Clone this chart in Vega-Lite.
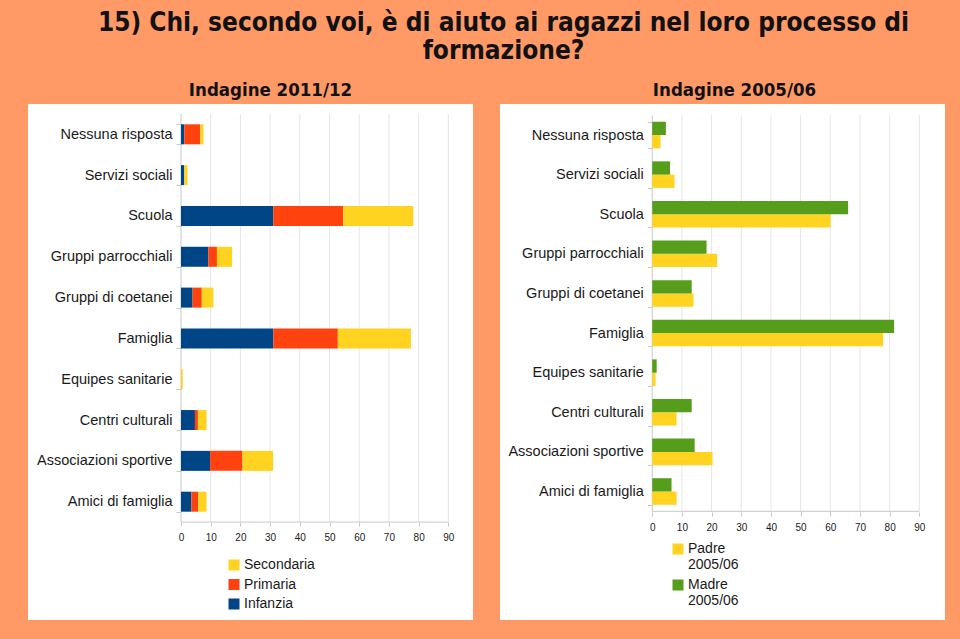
{
  "$schema": "https://vega.github.io/schema/vega-lite/v6.json",
  "background": "#ff9966",
  "padding": {"left": 28, "right": 15, "top": 9, "bottom": 20},
  "title": {
    "text": ["15) Chi, secondo voi, è di aiuto ai ragazzi nel loro processo di", "formazione?"],
    "font": "DejaVu Sans Condensed",
    "fontWeight": "bold",
    "fontSize": 26,
    "lineHeight": 28,
    "color": "#111111",
    "anchor": "middle",
    "dx": 17,
    "offset": 17
  },
  "resolve": {"scale": {"color": "independent"}, "legend": {"color": "independent"}},
  "datasets": {
    "left": [
      {"cat": "Nessuna risposta", "level": "Infanzia", "value": 1.1},
      {"cat": "Nessuna risposta", "level": "Primaria", "value": 5.4},
      {"cat": "Nessuna risposta", "level": "Secondaria", "value": 1.1},
      {"cat": "Servizi sociali", "level": "Infanzia", "value": 1.1},
      {"cat": "Servizi sociali", "level": "Primaria", "value": 0},
      {"cat": "Servizi sociali", "level": "Secondaria", "value": 1.1},
      {"cat": "Scuola", "level": "Infanzia", "value": 31.1},
      {"cat": "Scuola", "level": "Primaria", "value": 23.5},
      {"cat": "Scuola", "level": "Secondaria", "value": 23.6},
      {"cat": "Gruppi parrocchiali", "level": "Infanzia", "value": 9.2},
      {"cat": "Gruppi parrocchiali", "level": "Primaria", "value": 2.9},
      {"cat": "Gruppi parrocchiali", "level": "Secondaria", "value": 5.1},
      {"cat": "Gruppi di coetanei", "level": "Infanzia", "value": 3.9},
      {"cat": "Gruppi di coetanei", "level": "Primaria", "value": 3.1},
      {"cat": "Gruppi di coetanei", "level": "Secondaria", "value": 3.9},
      {"cat": "Famiglia", "level": "Infanzia", "value": 31.1},
      {"cat": "Famiglia", "level": "Primaria", "value": 21.7},
      {"cat": "Famiglia", "level": "Secondaria", "value": 24.6},
      {"cat": "Equipes sanitarie", "level": "Infanzia", "value": 0},
      {"cat": "Equipes sanitarie", "level": "Primaria", "value": 0},
      {"cat": "Equipes sanitarie", "level": "Secondaria", "value": 0.6},
      {"cat": "Centri culturali", "level": "Infanzia", "value": 4.7},
      {"cat": "Centri culturali", "level": "Primaria", "value": 1.0},
      {"cat": "Centri culturali", "level": "Secondaria", "value": 2.9},
      {"cat": "Associazioni sportive", "level": "Infanzia", "value": 9.8},
      {"cat": "Associazioni sportive", "level": "Primaria", "value": 10.9},
      {"cat": "Associazioni sportive", "level": "Secondaria", "value": 10.3},
      {"cat": "Amici di famiglia", "level": "Infanzia", "value": 3.5},
      {"cat": "Amici di famiglia", "level": "Primaria", "value": 2.3},
      {"cat": "Amici di famiglia", "level": "Secondaria", "value": 2.8}
    ],
    "right": [
      {"cat": "Nessuna risposta", "series": "Padre 2005/06", "value": 2.8},
      {"cat": "Nessuna risposta", "series": "Madre 2005/06", "value": 4.6},
      {"cat": "Servizi sociali", "series": "Padre 2005/06", "value": 7.5},
      {"cat": "Servizi sociali", "series": "Madre 2005/06", "value": 6.0},
      {"cat": "Scuola", "series": "Padre 2005/06", "value": 60.1},
      {"cat": "Scuola", "series": "Madre 2005/06", "value": 66.0},
      {"cat": "Gruppi parrocchiali", "series": "Padre 2005/06", "value": 21.9},
      {"cat": "Gruppi parrocchiali", "series": "Madre 2005/06", "value": 18.3},
      {"cat": "Gruppi di coetanei", "series": "Padre 2005/06", "value": 13.9},
      {"cat": "Gruppi di coetanei", "series": "Madre 2005/06", "value": 13.3},
      {"cat": "Famiglia", "series": "Padre 2005/06", "value": 77.8},
      {"cat": "Famiglia", "series": "Madre 2005/06", "value": 81.5},
      {"cat": "Equipes sanitarie", "series": "Padre 2005/06", "value": 1.1},
      {"cat": "Equipes sanitarie", "series": "Madre 2005/06", "value": 1.5},
      {"cat": "Centri culturali", "series": "Padre 2005/06", "value": 8.2},
      {"cat": "Centri culturali", "series": "Madre 2005/06", "value": 13.3},
      {"cat": "Associazioni sportive", "series": "Padre 2005/06", "value": 20.3},
      {"cat": "Associazioni sportive", "series": "Madre 2005/06", "value": 14.3},
      {"cat": "Amici di famiglia", "series": "Padre 2005/06", "value": 8.2},
      {"cat": "Amici di famiglia", "series": "Madre 2005/06", "value": 6.5}
    ],
    "grid": [
      {"v": 10}, {"v": 20}, {"v": 30}, {"v": 40}, {"v": 50},
      {"v": 60}, {"v": 70}, {"v": 80}, {"v": 90}
    ],
    "one": [{}]
  },
  "hconcat": [
    {
      "width": 445,
      "height": 516,
      "title": {"text": "Indagine 2011/12", "dx": 20},
      "layer": [
        {
          "data": {"name": "grid"},
          "mark": {"type": "rule", "color": "#e6e6e6", "strokeWidth": 1},
          "encoding": {
            "x": {"field": "v", "type": "quantitative"},
            "y": {"datum": "Nessuna risposta", "type": "nominal", "bandPosition": -0.52},
            "y2": {"datum": "Amici di famiglia", "bandPosition": 1.52}
          }
        },
        {
          "data": {"name": "one"},
          "mark": {"type": "rule", "color": "#c8c8c8", "strokeWidth": 1},
          "encoding": {
            "x": {"datum": 0, "type": "quantitative"},
            "y": {"datum": "Nessuna risposta", "type": "nominal", "bandPosition": -0.52},
            "y2": {"datum": "Amici di famiglia", "bandPosition": 1.52}
          }
        },
        {
          "data": {"name": "one"},
          "mark": {"type": "rule", "color": "#c8c8c8", "strokeWidth": 1},
          "encoding": {
            "x": {"datum": 0, "type": "quantitative"},
            "x2": {"datum": 90},
            "y": {"datum": "Amici di famiglia", "type": "nominal", "bandPosition": 1.52}
          }
        },
        {
          "data": {"name": "left"},
          "mark": {"type": "bar"},
          "encoding": {
            "y": {
              "field": "cat", "type": "nominal", "sort": null,
              "scale": {
                "domain": ["Nessuna risposta", "Servizi sociali", "Scuola", "Gruppi parrocchiali", "Gruppi di coetanei", "Famiglia", "Equipes sanitarie", "Centri culturali", "Associazioni sportive", "Amici di famiglia"],
                "range": [9.9, 418.1],
                "paddingInner": 0.51, "paddingOuter": 0.255
              },
              "axis": {"title": null, "offset": -153, "domain": false, "ticks": true, "tickBand": "extent", "tickSize": 5, "tickColor": "#c8c8c8", "labelPadding": 4, "labelFont": "Liberation Sans", "labelFontSize": 14.5, "labelColor": "#1a1a1a", "labelLimit": 300}
            },
            "x": {
              "field": "value", "type": "quantitative", "stack": "zero",
              "scale": {"domain": [-51.5, 98.3], "nice": false, "zero": false},
              "axis": {"title": null, "offset": -98, "values": [0, 10, 20, 30, 40, 50, 60, 70, 80, 90], "grid": false, "domain": false, "tickSize": 4, "tickColor": "#c8c8c8", "labelPadding": 6, "labelFont": "Liberation Sans", "labelFontSize": 10, "labelColor": "#1a1a1a", "labelFlush": false}
            },
            "color": {
              "field": "level", "type": "nominal",
              "scale": {"domain": ["Secondaria", "Primaria", "Infanzia"], "range": ["#ffd320", "#ff420e", "#004586"]},
              "legend": {"title": null, "orient": "none", "legendX": 199, "legendY": 454, "symbolType": "square", "symbolSize": 121, "symbolStrokeWidth": 0, "labelFont": "Liberation Sans", "labelFontSize": 14, "labelColor": "#1a1a1a", "rowPadding": 5.5, "padding": 0, "labelOffset": 3}
            },
            "order": {"field": "level", "sort": "ascending"}
          }
        }
      ]
    },
    {
      "width": 445,
      "height": 516,
      "title": {"text": "Indagine 2005/06", "dx": 12},
      "layer": [
        {
          "data": {"name": "grid"},
          "mark": {"type": "rule", "color": "#e6e6e6", "strokeWidth": 1},
          "encoding": {
            "x": {"field": "v", "type": "quantitative"},
            "y": {"datum": "Nessuna risposta", "type": "nominal", "bandPosition": -0.247},
            "y2": {"datum": "Amici di famiglia", "bandPosition": 1.247}
          }
        },
        {
          "data": {"name": "one"},
          "mark": {"type": "rule", "color": "#c8c8c8", "strokeWidth": 1},
          "encoding": {
            "x": {"datum": 0, "type": "quantitative"},
            "y": {"datum": "Nessuna risposta", "type": "nominal", "bandPosition": -0.247},
            "y2": {"datum": "Amici di famiglia", "bandPosition": 1.247}
          }
        },
        {
          "data": {"name": "one"},
          "mark": {"type": "rule", "color": "#c8c8c8", "strokeWidth": 1},
          "encoding": {
            "x": {"datum": 0, "type": "quantitative"},
            "x2": {"datum": 90},
            "y": {"datum": "Amici di famiglia", "type": "nominal", "bandPosition": 1.247}
          }
        },
        {
          "data": {"name": "right"},
          "mark": {"type": "bar"},
          "encoding": {
            "y": {
              "field": "cat", "type": "nominal", "sort": null,
              "scale": {
                "domain": ["Nessuna risposta", "Servizi sociali", "Scuola", "Gruppi parrocchiali", "Gruppi di coetanei", "Famiglia", "Equipes sanitarie", "Centri culturali", "Associazioni sportive", "Amici di famiglia"],
                "range": [11.2, 407.3],
                "paddingInner": 0.33, "paddingOuter": 0.165
              },
              "axis": {"title": null, "offset": -152.3, "domain": false, "ticks": true, "tickBand": "extent", "tickSize": 5, "tickColor": "#c8c8c8", "labelPadding": 4, "labelFont": "Liberation Sans", "labelFontSize": 14.5, "labelColor": "#1a1a1a", "labelLimit": 300}
            },
            "yOffset": {
              "field": "series", "type": "nominal",
              "scale": {"domain": ["Madre 2005/06", "Padre 2005/06"], "paddingInner": 0}
            },
            "x": {
              "field": "value", "type": "quantitative",
              "scale": {"domain": [-51.3, 98.65], "nice": false, "zero": false},
              "axis": {"title": null, "offset": -108, "values": [0, 10, 20, 30, 40, 50, 60, 70, 80, 90], "grid": false, "domain": false, "tickSize": 4, "tickColor": "#c8c8c8", "labelPadding": 6, "labelFont": "Liberation Sans", "labelFontSize": 10, "labelColor": "#1a1a1a", "labelFlush": false}
            },
            "color": {
              "field": "series", "type": "nominal",
              "scale": {"domain": ["Padre 2005/06", "Madre 2005/06"], "range": ["#ffd320", "#579d1c"]},
              "legend": {"title": null, "orient": "none", "legendX": 171, "legendY": 438, "symbolType": "square", "symbolSize": 121, "symbolStrokeWidth": 0, "labelFont": "Liberation Sans", "labelFontSize": 14, "labelColor": "#1a1a1a", "labelExpr": "split(datum.label, ' ')", "rowPadding": 6, "padding": 0, "labelOffset": 3}
            }
          }
        }
      ]
    }
  ],
  "config": {
    "view": {"stroke": null, "fill": "white"},
    "concat": {"spacing": 27},
    "title": {"font": "DejaVu Sans Condensed", "fontWeight": "bold", "fontSize": 18.5, "color": "#111111", "anchor": "middle", "offset": -3}
  }
}
